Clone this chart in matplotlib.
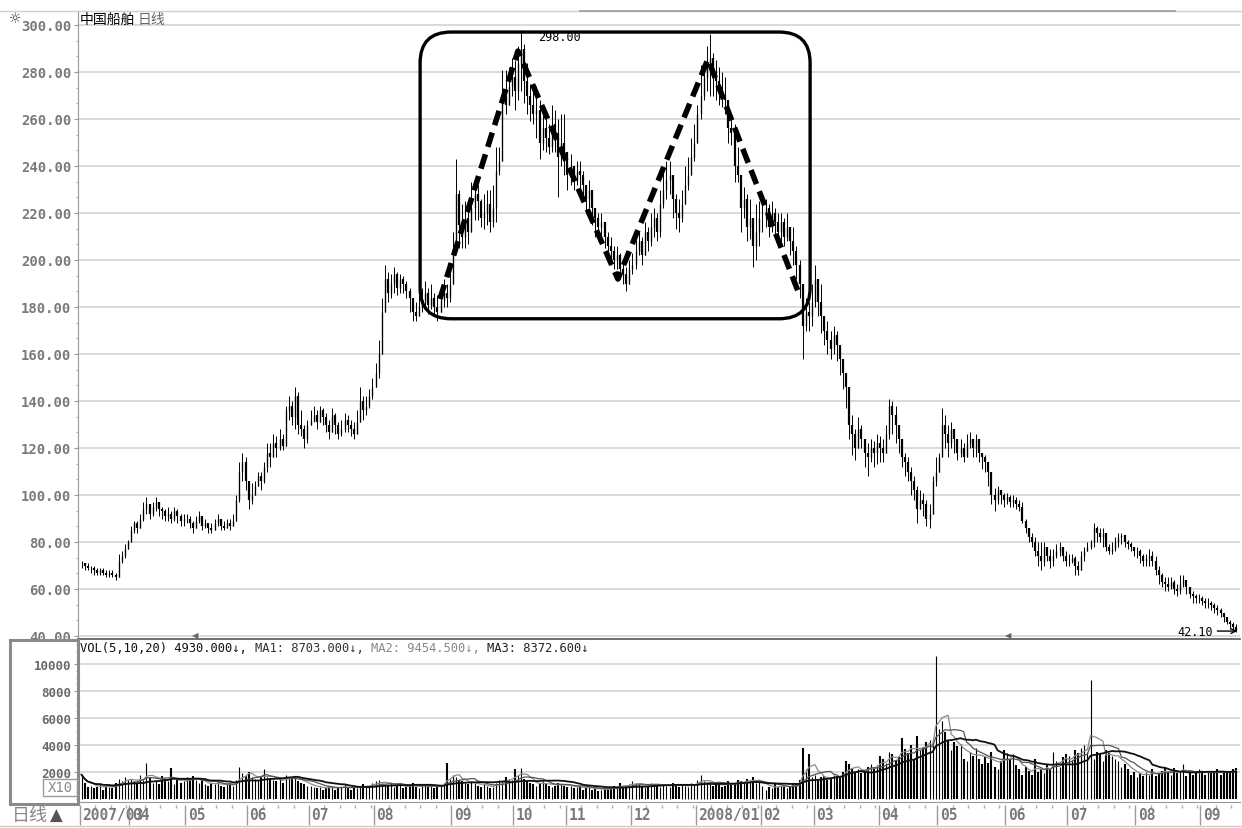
import matplotlib
matplotlib.use("Agg")
import matplotlib.pyplot as plt
from matplotlib.patches import FancyBboxPatch, Rectangle
from matplotlib.lines import Line2D
from matplotlib.ticker import AutoMinorLocator
import numpy as np
import pandas as pd

W, H = 1242, 829
MONO = ['DejaVu Sans Mono', 'DejaVu Sans']
CJK = ['Noto Sans CJK SC', 'DejaVu Sans']
plt.rcParams['font.family'] = MONO

# month labels and number of daily bars in each month
months = ["2007/03", "04", "05", "06", "07", "08", "09", "10", "11", "12",
          "2008/01", "02", "03", "04", "05", "06", "07", "08", "09"]
month_bars = [16, 18, 20, 20, 21, 25, 20, 17, 21, 21, 21, 17, 21, 19, 22, 20, 22, 21, 12]

# daily closes (month by month)
close = [
    71, 70, 69, 69, 68, 67, 68, 67, 66, 67, 66, 65, 72, 74, 77, 80,
    85, 88, 86, 90, 94, 96, 92, 95, 97, 94, 93, 91, 92, 90, 93, 91, 89, 90,
    90, 88, 86, 89, 91, 87, 88, 86, 85, 88, 90, 87, 86, 88, 87, 89, 98, 110, 114, 106,
    98, 100, 104, 108, 106, 112, 118, 116, 122, 120, 124, 121, 136, 138, 133, 142, 130, 128, 124, 130,
    132, 134, 131, 136, 133, 130, 127, 134, 130, 126, 128, 132, 130, 128, 126, 131, 140, 136, 138, 142, 146,
    152, 160, 178, 192, 186, 190, 194, 188, 192, 190, 187, 184, 178, 176, 180, 183, 186, 181, 184, 180, 178, 183, 186, 184, 190,
    205, 228, 215, 210, 218, 212, 222, 228, 225, 218, 220, 224, 216, 222, 238, 242, 270, 266, 274, 278,
    272, 284, 290, 276, 270, 266, 262, 264, 250, 256, 252, 248, 258, 254, 244, 250, 246,
    236, 240, 234, 238, 236, 232, 226, 230, 222, 218, 214, 216, 210, 206, 204, 200, 202, 196, 194, 190, 196,
    198, 204, 208, 202, 212, 208, 214, 218, 212, 224, 230, 234, 236, 226, 220, 218, 224, 232, 236, 244, 250,
    262, 270, 278, 284, 286, 280, 276, 272, 270, 268, 256, 254, 240, 236, 222, 226, 214, 218, 206, 212, 218,
    218, 222, 214, 220, 216, 212, 216, 210, 214, 208, 204, 198, 190, 172, 178, 176, 182,
    192, 182, 176, 170, 166, 162, 168, 164, 158, 152, 146, 130, 126, 120, 128, 124, 118, 116, 120, 118, 122,
    120, 118, 126, 138, 134, 130, 124, 116, 114, 110, 106, 102, 94, 98, 96, 90, 92, 106, 110,
    116, 130, 126, 122, 128, 124, 118, 120, 116, 122, 124, 120, 124, 118, 116, 114, 110, 100, 98, 102, 100, 98,
    99, 97, 98, 96, 95, 89, 86, 82, 80, 76, 74, 72, 78, 74, 72, 74, 76, 78, 74, 72,
    72, 73, 70, 68, 74, 76, 78, 80, 86, 84, 82, 84, 78, 76, 77, 80, 82, 83, 80, 79, 78, 76,
    76, 74, 72, 73, 74, 72, 68, 66, 63, 62, 61, 63, 60, 59, 62, 64, 61, 58, 57, 56, 56,
    55, 54, 54, 53, 52, 51, 50, 48, 46, 45, 44, 42.1,
]
high = [
    72, 71, 71, 70, 70, 69, 69, 69, 68, 68, 68, 67, 75, 76, 79, 81,
    87, 89, 89, 92, 97, 99, 96, 97, 99, 97, 95, 94, 95, 93, 95, 94, 92, 92,
    92, 91, 89, 91, 93, 90, 90, 88, 88, 90, 92, 90, 89, 90, 90, 92, 100, 114, 118, 116,
    104, 105, 106, 110, 110, 114, 122, 122, 126, 125, 128, 126, 138, 142, 140, 146, 144, 136, 130, 132,
    136, 138, 136, 138, 137, 135, 132, 137, 135, 131, 132, 135, 134, 132, 131, 136, 146, 142, 142, 145, 150,
    156, 166, 184, 198, 195, 194, 197, 195, 194, 193, 191, 188, 184, 182, 185, 188, 191, 188, 190, 186, 185, 188, 192, 190, 196,
    212, 243, 230, 224, 225, 225, 233, 234, 232, 226, 228, 230, 230, 232, 248, 248, 281, 281, 282, 286,
    285, 291, 298, 292, 284, 275, 272, 274, 268, 265, 262, 258, 266, 264, 260, 262, 262,
    244, 245, 240, 242, 242, 238, 232, 234, 230, 222, 220, 220, 216, 212, 210, 206, 206, 203, 200, 197, 200,
    203, 210, 212, 210, 216, 214, 220, 222, 220, 230, 238, 242, 242, 234, 228, 226, 230, 240, 244, 252, 258,
    266, 283, 284, 291, 296, 288, 285, 282, 280, 278, 262, 260, 258, 248, 232, 231, 228, 226, 217, 224, 225,
    224, 226, 224, 225, 222, 220, 220, 218, 220, 214, 214, 206, 200, 186, 184, 182, 190,
    198, 192, 190, 176, 174, 170, 172, 170, 162, 156, 150, 138, 134, 128, 133, 130, 124, 122, 124, 123, 126,
    125, 124, 130, 141, 140, 138, 130, 122, 118, 116, 112, 108, 104, 102, 101, 98, 96, 108, 116,
    118, 137, 134, 130, 131, 128, 124, 124, 122, 126, 127, 124, 126, 124, 118, 117, 114, 106, 103, 104, 102, 101,
    101, 100, 100, 99, 98, 97, 90, 86, 84, 82, 80, 80, 80, 78, 77, 77, 79, 80, 78, 76,
    75, 75, 74, 72, 76, 78, 80, 81, 88, 87, 86, 86, 84, 79, 80, 82, 84, 84, 82, 81, 80, 78,
    78, 77, 75, 75, 77, 76, 74, 70, 67, 65, 65, 65, 64, 62, 66, 66, 64, 61, 59, 58, 58,
    57, 56, 56, 55, 54, 53, 52, 50, 48, 47, 46, 45,
]
low = [
    69, 68, 68, 67, 66, 66, 66, 66, 65, 65, 65, 64, 69, 71, 73, 78,
    82, 84, 84, 86, 89, 92, 90, 91, 93, 91, 90, 89, 89, 88, 89, 88, 87, 87,
    88, 86, 84, 86, 88, 85, 86, 84, 84, 86, 87, 85, 85, 86, 85, 87, 90, 97, 106, 102,
    94, 96, 100, 104, 102, 105, 110, 112, 116, 116, 119, 119, 124, 132, 130, 128, 126, 125, 120, 122,
    130, 131, 128, 131, 130, 127, 124, 129, 126, 124, 125, 127, 127, 125, 124, 126, 131, 132, 134, 137, 141,
    148, 150, 168, 180, 182, 184, 186, 185, 186, 186, 184, 178, 174, 174, 176, 178, 180, 177, 179, 176, 174, 178, 180, 180, 182,
    192, 205, 205, 205, 205, 207, 214, 217, 217, 214, 213, 215, 212, 214, 216, 236, 260, 262, 266, 270,
    264, 268, 272, 267, 262, 259, 258, 252, 243, 247, 246, 245, 246, 246, 227, 240, 236,
    230, 232, 230, 232, 230, 226, 220, 222, 215, 210, 208, 210, 205, 202, 198, 196, 196, 192, 190, 187, 190,
    194, 196, 202, 198, 204, 204, 206, 210, 208, 210, 222, 226, 228, 218, 213, 212, 216, 226, 230, 238, 242,
    258, 260, 268, 272, 270, 270, 268, 266, 265, 262, 250, 249, 233, 233, 212, 218, 208, 209, 197, 200, 206,
    212, 214, 210, 212, 210, 206, 208, 206, 208, 202, 198, 192, 184, 158, 170, 170, 172,
    180, 176, 169, 164, 160, 158, 160, 157, 151, 145, 137, 124, 117, 115, 121, 120, 112, 108, 114, 112, 113,
    114, 114, 118, 124, 126, 122, 118, 112, 108, 106, 100, 98, 88, 94, 91, 87, 86, 100, 104,
    112, 124, 120, 116, 120, 118, 115, 116, 114, 118, 120, 116, 116, 114, 111, 110, 104, 96, 93, 96, 96, 95,
    96, 95, 95, 94, 93, 88, 84, 80, 78, 74, 70, 68, 70, 72, 69, 70, 73, 74, 72, 70,
    70, 71, 66, 66, 70, 72, 76, 77, 78, 80, 80, 78, 76, 75, 75, 76, 78, 79, 78, 77, 76, 74,
    73, 71, 70, 70, 70, 70, 66, 62, 61, 59, 59, 60, 58, 57, 58, 61, 58, 56, 54, 54, 54,
    53, 52, 52, 51, 50, 49, 48, 46, 45, 43, 42, 41.5,
]
# daily volume (chart units, x10)
volume = [
    1800, 1200, 900, 1000, 800, 900, 1100, 700, 1000, 900, 800, 1200, 1500, 1300, 1600, 1400,
    1500, 1300, 1200, 1800, 1400, 2700, 1600, 1200, 1300, 1100, 1700, 1500, 1300, 2300, 1100, 1400, 1200, 1300,
    1600, 1500, 1700, 1400, 1200, 1300, 1100, 1000, 1200, 1100, 1300, 1000, 900, 1100, 1200, 1000, 1400, 2400, 1900, 1700,
    2000, 1600, 1500, 1400, 1700, 2200, 1600, 1500, 1400, 1300, 1500, 1200, 1800, 1600, 1500, 1700, 1300, 1200, 1100, 1000,
    1000, 900, 800, 900, 700, 800, 1000, 900, 700, 800, 900, 1100, 800, 700, 900, 800, 1000, 1100, 900, 1000, 1200,
    1300, 1400, 1200, 1100, 1000, 1200, 900, 1000, 1100, 800, 900, 1000, 1200, 900, 800, 1000, 1100, 900, 1000, 800, 900, 1000, 1200, 2700, 1500,
    1800, 1600, 1400, 1300, 1200, 1100, 1300, 1200, 1000, 900, 1100, 1000, 800, 900, 1200, 1400, 1300, 1600, 1500, 1400,
    2200, 1800, 2300, 1500, 1300, 1200, 1100, 1000, 1200, 1300, 1100, 1000, 900, 1000, 1200, 1100, 1000,
    900, 1000, 800, 900, 1000, 700, 800, 900, 700, 800, 600, 700, 800, 700, 900, 1000, 800, 1200, 900, 1000, 1100,
    1300, 1200, 1100, 1000, 900, 1000, 1200, 1100, 1000, 900, 1100, 1000, 900, 1200, 1000, 900, 1100, 1000, 900, 1200, 1100,
    1400, 1800, 1300, 1200, 1100, 1000, 1200, 1100, 900, 1000, 1300, 1100, 1200, 1400, 1300, 1200, 1500, 1300, 1600, 1200, 1400,
    1000, 700, 900, 800, 1100, 900, 1000, 900, 800, 1000, 1200, 1100, 1400, 3800, 2200, 3300, 1600,
    1800, 1500, 1600, 1700, 1400, 1500, 1800, 1700, 1600, 2000, 2800, 2600, 2300, 2000, 2200, 1900, 2100, 2400, 2600, 2300, 2500,
    3200, 3000, 2700, 3500, 3300, 2900, 3100, 4500, 3700, 3400, 4000, 3000, 4700, 3600, 3800, 4200, 4400, 4000, 10600,
    5200, 5800, 5000, 4400, 3600, 4200, 3900, 4100, 3000, 2800, 3500, 3200, 3800, 3000, 2600, 3100, 2700, 3500, 2400, 2200, 2800, 3600,
    3400, 2900, 3300, 2500, 2200, 1800, 2400, 2100, 1800, 3000, 2000, 2200, 1900, 2600, 2200, 3500, 2800, 2400, 3100, 3300,
    3200, 2900, 3600, 3400, 3800, 4000, 3500, 8800, 3000, 3500, 3300, 2800, 3600, 3400, 3200, 3000, 2800, 2400, 2600, 2200, 1800, 2000,
    1600, 1900, 1700, 2000, 1800, 2200, 1700, 1900, 2100, 2400, 2000, 1800, 2300, 1900, 2100, 2600, 1700, 2000, 1800, 1900, 2200,
    2000, 1800, 2100, 1900, 2000, 2200, 1800, 2100, 2000, 1900, 2200, 2300,
]

# hand-drawn double-top sketch (bar index, price) and its frame
m_idx = [115.8, 141.0, 173.3, 202.4, 232.1]
m_price = [183.4, 288.9, 191.9, 285.5, 184.7]
frame_idx = (109.4, 235.4)
frame_price = (175.0, 297.0)

vol_info = [("VOL(5,10,20) 4930.000\u2193, ", "#111111"),
            ("MA1: 8703.000\u2193, ", "#333333"),
            ("MA2: 9454.500\u2193, ", "#888888"),
            ("MA3: 8372.600\u2193", "#222222")]

close = np.array(close, float)
high = np.array(high, float)
low = np.array(low, float)
volume = np.array(volume, float)
n = len(close)
assert len(high) == n and len(low) == n and len(volume) == n and sum(month_bars) == n

opn = np.r_[close[0], close[:-1]]
down = close < opn
idx = np.arange(n)

fig = plt.figure(figsize=(W / 100, H / 100), dpi=100)


def fx(x):
    return x / W


def fy(y):
    return 1 - y / H


def ftext(x, y, s, **kw):
    fig.text(fx(x), fy(y), s, **kw)


AX_L, AX_R = 78, 1240
ax = fig.add_axes([fx(AX_L), fy(640), (AX_R - AX_L) / W, (640 - 12) / H])
axv = fig.add_axes([fx(AX_L), fy(803), (AX_R - AX_L) / W, (803 - 641) / H])
axd = fig.add_axes([fx(AX_L), fy(829), (AX_R - AX_L) / W, (829 - 804) / H])

ppb = 3.095          # pixels per bar
ppp = 47 / 20        # pixels per price unit
ppv = 13.5 / 1000    # pixels per volume unit
xlim = (-3.5 / ppb, n - 1 + 4 / ppb)
for a in (ax, axv, axd):
    a.set_xlim(*xlim)
ax.set_ylim(300 - (640 - 26) / ppp, 300 + (26 - 12) / ppp)
axv.set_ylim(-3 / ppv, (800 - 641) / ppv)

# ---- price panel
top = np.maximum(high, np.maximum(opn, close))
bot = np.minimum(low, np.minimum(opn, close))
ax.vlines(idx, bot, top, color='k', lw=0.7, zorder=3)
ax.vlines(idx[down], close[down], opn[down], color='k', lw=1.6, zorder=3)
ax.vlines(idx[~down], opn[~down], close[~down], color='k', lw=0.95, zorder=3)

yt = np.arange(40, 301, 20)
ax.set_yticks(yt)
ax.set_yticklabels([f"{v:.2f}" for v in yt])
ax.yaxis.grid(True, color='#cfcfcf', lw=1.1)
ax.set_axisbelow(True)
ax.yaxis.set_minor_locator(AutoMinorLocator(3))
ax.tick_params(axis='y', which='major', length=3, width=0.8, color='#999999',
               labelcolor='#7a7a7a', labelsize=10, pad=2)
ax.tick_params(axis='y', which='minor', length=1.5, width=0.8, color='#aaaaaa')
for t in ax.get_yticklabels():
    t.set_fontweight('bold')
ax.set_xticks([])
ax.spines['right'].set_visible(False)
ax.spines['top'].set_color('#cccccc')
ax.spines['left'].set_color('#999999')
ax.spines['bottom'].set_color('#555555')
ax.spines['bottom'].set_linewidth(1.2)

# double-top sketch
asp = ppb / ppp
frame = FancyBboxPatch((frame_idx[0], frame_price[0]), frame_idx[1] - frame_idx[0],
                       frame_price[1] - frame_price[0],
                       boxstyle="round,pad=0,rounding_size=10", mutation_aspect=asp,
                       fill=False, ec='k', lw=2.4, zorder=5)
ax.add_patch(frame)
ax.plot(m_idx, m_price, color='k', lw=4.0, ls=(0, (2.7, 1.4)), solid_capstyle='butt',
        dash_capstyle='butt', zorder=6)

imax = int(np.argmax(high))
ax.annotate(f"{high[imax]:.2f}", xy=(imax, high[imax]), xytext=(17, -7),
            textcoords='offset pixels', ha='left', va='center', size=8.5, color='k')
ax.annotate(f"{close[-1]:.2f}", xy=(n - 1 + 0.4, close[-1]), xytext=(-24, 0),
            textcoords='offset pixels', ha='right', va='center', size=8.5, color='k',
            arrowprops=dict(arrowstyle='->', lw=1, color='k', shrinkA=1, shrinkB=0))

# ---- volume panel
axv.vlines(idx[down], 0, volume[down], color='k', lw=1.5)
axv.vlines(idx[~down], 0, volume[~down], color='k', lw=0.8)
vs = pd.Series(volume)
axv.plot(idx, vs.rolling(5, min_periods=1).mean(), color='#8c8c8c', lw=0.9)
axv.plot(idx, vs.rolling(10, min_periods=1).mean(), color='#555555', lw=0.9)
axv.plot(idx, vs.rolling(20, min_periods=1).mean(), color='#111111', lw=1.3)
vt = np.arange(2000, 10001, 2000)
axv.set_yticks(vt)
axv.set_yticklabels([str(v) for v in vt])
axv.yaxis.grid(True, color='#cfcfcf', lw=1.1)
axv.set_axisbelow(True)
axv.yaxis.set_minor_locator(AutoMinorLocator(4))
axv.tick_params(axis='y', which='major', length=3, width=0.8, color='#999999',
                labelcolor='#6a6a6a', labelsize=9, pad=2)
axv.tick_params(axis='y', which='minor', length=1.5, width=0.8, color='#aaaaaa')
for t in axv.get_yticklabels():
    t.set_fontweight('bold')
axv.set_xticks([])
axv.spines['right'].set_visible(False)
axv.spines['top'].set_visible(False)
axv.spines['left'].set_color('#999999')
axv.spines['bottom'].set_color('#999999')

# ---- date strip
axd.set_ylim(0, 25)
axd.axis('off')
starts = np.cumsum([0] + month_bars[:-1])
for s, nb, lab in zip(starts, month_bars, months):
    axd.vlines(s - 0.5, 3, 23, color='#9a9a9a', lw=1)
    for k in range(5, nb, 5):
        axd.vlines(s + k - 0.5, 20, 23, color='#aaaaaa', lw=1)
    axd.text(s + 0.3, 13.5, lab, ha='left', va='center', size=10.5,
             color='#7a7a7a', fontweight='bold')

# ---- frame decorations
fig.add_artist(Line2D([0, 1], [fy(12), fy(12)], color='#d0d0d0', lw=1))
fig.add_artist(Line2D([fx(580), fx(1175)], [fy(12), fy(12)], color='#9a9a9a', lw=1.2))
fig.add_artist(Line2D([0, 1], [fy(827), fy(827)], color='#cccccc', lw=1))
fig.add_artist(Rectangle((fx(10), fy(805)), 68 / W, 164 / H, transform=fig.transFigure,
                         fill=False, ec='#8a8a8a', lw=2.2))
fig.add_artist(Rectangle((fx(43), fy(797)), 34 / W, 17 / H, transform=fig.transFigure,
                         fill=False, ec='#9a9a9a', lw=1))
ftext(60, 788.5, "X10", ha='center', va='center', size=10, color='#8a8a8a')

ftext(15, 19, "\u263c", ha='center', va='center', size=10, color='#333333', family='DejaVu Sans')
ftext(80, 20, "中国船舶", ha='left', va='center', size=10, color='k', family=CJK)
ftext(138, 20, "日线", ha='left', va='center', size=10, color='#666666', family=CJK)
ftext(195, 636, "\u25c0", ha='center', va='center', size=6, color='#666666', family='DejaVu Sans')
ftext(1008, 636, "\u25c0", ha='center', va='center', size=6, color='#666666', family='DejaVu Sans')

cw = 0.602 * 8.7 * 100 / 72
x0 = 80
for seg, col in vol_info:
    ftext(x0, 649, seg, ha='left', va='center', size=8.7, color=col)
    x0 += len(seg) * cw

ftext(12, 816, "日线", ha='left', va='center', size=13, color='#888888', family=CJK)
ftext(50, 816, "\u25b2", ha='left', va='center', size=12, color='#555555', family='DejaVu Sans')

fig.savefig("out.png", dpi=100)
